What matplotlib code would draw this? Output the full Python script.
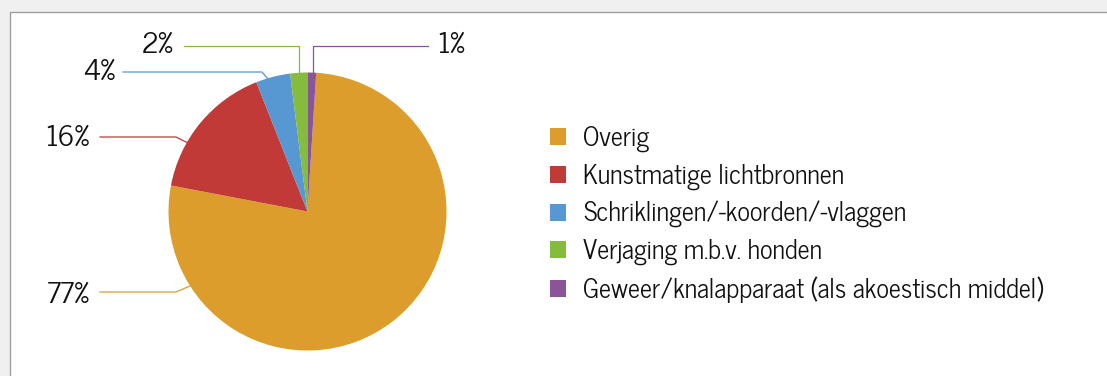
import matplotlib.pyplot as plt
from matplotlib.patches import Rectangle

# Share of deterrence methods
categories = ["Overig", "Kunstmatige lichtbronnen", "Schriklingen/-koorden/-vlaggen",
              "Verjaging m.b.v. honden", "Geweer/knalapparaat (als akoestisch middel)"]
shares = [77, 16, 4, 2, 1]
colors = ["#DC9D2C", "#C23A37", "#5797D2", "#86BC3E", "#8C5498"]

W, H = 1107, 376
plt.rcParams["font.family"] = ["News Cycle", "Liberation Sans", "DejaVu Sans"]

fig = plt.figure(figsize=(W / 100, H / 100), dpi=100, facecolor="#f0f0f0")
# white chart area with a grey frame along the top and left
fig.patches.append(Rectangle((9.5 / W, -0.1), 1.2, 1.1 - 11.5 / H, transform=fig.transFigure,
                             facecolor="white", edgecolor="#a0a0a0", lw=1.0, zorder=-1))

# axes in pixel units, y pointing down
ax = fig.add_axes([0, 0, 1, 1])
center = (307.5, 211.5)
radius = 139
total = sum(shares)
wedges, _ = ax.pie(shares, colors=colors, center=center, radius=radius,
                   startangle=-90 + 360 * shares[-1] / total, counterclock=True,
                   frame=True)
ax.set_xlim(0, W)
ax.set_ylim(H, 0)
ax.set_aspect("equal")
ax.axis("off")

# leader lines: start on the rim, elbow, end, then label anchor
leaders = [
    ([(190, 286), (176, 292), (100, 292)], (90, 295), "right"),
    ([(188, 143), (176, 137), (100, 137)], (90, 138), "right"),
    ([(268, 79), (262, 72), (123, 72)], (115, 72), "right"),
    ([(298.5, 73), (298.5, 46), (184, 46)], (174, 45), "right"),
    ([(312.5, 73), (312.5, 46), (428, 46)], (437, 45), "left"),
]
for val, col, (pts, (tx, ty), ha) in zip(shares, colors, leaders):
    xs, ys = zip(*pts)
    ax.plot(xs, ys, color=col, lw=0.9)
    ax.text(tx, ty, f"{val}%", ha=ha, va="center", fontsize=21, color="#111111")

ax.legend(wedges, categories, loc="upper left", bbox_to_anchor=(550 / W, 1 - 126 / H),
          bbox_transform=fig.transFigure, frameon=False, fontsize=19,
          handlelength=0.61, handleheight=0.61, handletextpad=0.64,
          labelspacing=0.42, borderpad=0, borderaxespad=0,
          labelcolor="#111111")

fig.savefig("out.png", dpi=100, facecolor=fig.get_facecolor())
